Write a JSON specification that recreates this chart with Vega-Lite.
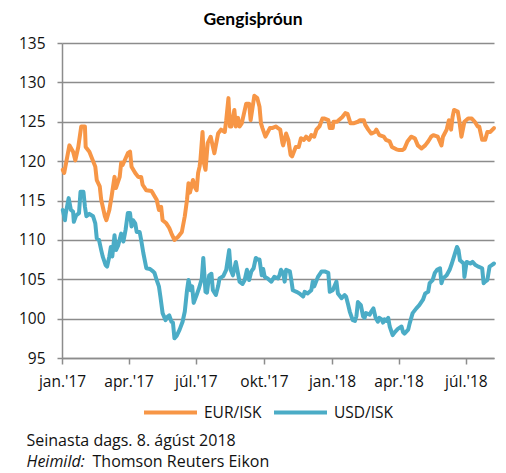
{
  "$schema": "https://vega.github.io/schema/vega-lite/v6.json",
  "width": 432,
  "height": 315,
  "autosize": {"type": "none"},
  "padding": {"left": 62, "top": 43, "right": 12, "bottom": 115},
  "config": {
    "font": "Open Sans",
    "view": {"stroke": null},
    "axis": {"labelFont": "Open Sans", "titleFont": "Open Sans", "labelColor": "#111", "titleColor": "#111"}
  },
  "title": {"text": "Gengisþróun", "fontSize": 17.5, "fontWeight": "bold", "anchor": "middle", "dx": -25, "offset": 8, "color": "#000", "font": "Lato"},
  "datasets": {
    "eur": [
      {"d":"2017-01-02","v":118.9},{"d":"2017-01-04","v":118.5},{"d":"2017-01-11","v":122.0},{"d":"2017-01-16","v":121.2},{"d":"2017-01-19","v":120.1},{"d":"2017-01-23","v":121.8},{"d":"2017-01-27","v":124.4},{"d":"2017-02-01","v":124.4},{"d":"2017-02-02","v":121.8},{"d":"2017-02-07","v":121.2},{"d":"2017-02-15","v":119.3},{"d":"2017-02-17","v":117.6},{"d":"2017-02-21","v":116.8},{"d":"2017-02-23","v":115.1},{"d":"2017-02-28","v":113.0},{"d":"2017-03-02","v":112.5},{"d":"2017-03-06","v":113.8},{"d":"2017-03-09","v":115.5},{"d":"2017-03-13","v":118.0},{"d":"2017-03-15","v":116.6},{"d":"2017-03-20","v":118.0},{"d":"2017-03-22","v":119.8},{"d":"2017-03-24","v":119.5},{"d":"2017-03-31","v":121.0},{"d":"2017-04-03","v":121.2},{"d":"2017-04-05","v":119.3},{"d":"2017-04-10","v":118.5},{"d":"2017-04-14","v":118.0},{"d":"2017-04-18","v":118.0},{"d":"2017-04-20","v":117.0},{"d":"2017-04-25","v":116.3},{"d":"2017-05-02","v":116.2},{"d":"2017-05-04","v":115.9},{"d":"2017-05-09","v":115.1},{"d":"2017-05-12","v":113.8},{"d":"2017-05-15","v":114.2},{"d":"2017-05-17","v":112.5},{"d":"2017-05-22","v":112.1},{"d":"2017-05-26","v":111.5},{"d":"2017-05-29","v":110.8},{"d":"2017-06-02","v":110.0},{"d":"2017-06-07","v":110.4},{"d":"2017-06-12","v":111.0},{"d":"2017-06-16","v":113.0},{"d":"2017-06-19","v":115.1},{"d":"2017-06-21","v":117.2},{"d":"2017-06-23","v":116.0},{"d":"2017-06-27","v":117.6},{"d":"2017-06-29","v":116.8},{"d":"2017-07-02","v":116.3},{"d":"2017-07-04","v":118.5},{"d":"2017-07-06","v":119.3},{"d":"2017-07-07","v":120.0},{"d":"2017-07-10","v":123.7},{"d":"2017-07-12","v":119.7},{"d":"2017-07-14","v":118.9},{"d":"2017-07-17","v":122.3},{"d":"2017-07-21","v":123.1},{"d":"2017-07-24","v":121.8},{"d":"2017-07-26","v":121.0},{"d":"2017-07-31","v":123.5},{"d":"2017-08-04","v":124.0},{"d":"2017-08-09","v":123.7},{"d":"2017-08-11","v":125.2},{"d":"2017-08-14","v":128.0},{"d":"2017-08-16","v":124.4},{"d":"2017-08-18","v":124.4},{"d":"2017-08-22","v":126.5},{"d":"2017-08-24","v":124.4},{"d":"2017-08-27","v":125.5},{"d":"2017-08-29","v":124.4},{"d":"2017-09-01","v":124.8},{"d":"2017-09-07","v":127.3},{"d":"2017-09-11","v":127.3},{"d":"2017-09-13","v":125.2},{"d":"2017-09-18","v":128.3},{"d":"2017-09-22","v":128.0},{"d":"2017-09-25","v":126.9},{"d":"2017-09-27","v":124.8},{"d":"2017-09-29","v":124.2},{"d":"2017-10-03","v":123.1},{"d":"2017-10-09","v":124.2},{"d":"2017-10-12","v":124.2},{"d":"2017-10-17","v":124.4},{"d":"2017-10-20","v":124.2},{"d":"2017-10-23","v":124.0},{"d":"2017-10-26","v":122.3},{"d":"2017-10-27","v":122.0},{"d":"2017-10-31","v":123.5},{"d":"2017-11-03","v":122.7},{"d":"2017-11-06","v":120.8},{"d":"2017-11-08","v":120.6},{"d":"2017-11-13","v":121.8},{"d":"2017-11-17","v":121.8},{"d":"2017-11-20","v":122.9},{"d":"2017-11-24","v":122.7},{"d":"2017-11-27","v":123.1},{"d":"2017-12-01","v":122.7},{"d":"2017-12-04","v":123.3},{"d":"2017-12-08","v":123.1},{"d":"2017-12-11","v":124.0},{"d":"2017-12-15","v":124.4},{"d":"2017-12-19","v":125.4},{"d":"2017-12-22","v":125.4},{"d":"2017-12-27","v":125.2},{"d":"2017-12-29","v":124.2},{"d":"2018-01-02","v":124.2},{"d":"2018-01-03","v":125.0},{"d":"2018-01-08","v":125.0},{"d":"2018-01-10","v":125.2},{"d":"2018-01-15","v":125.6},{"d":"2018-01-19","v":126.1},{"d":"2018-01-22","v":126.0},{"d":"2018-01-26","v":124.8},{"d":"2018-01-30","v":124.8},{"d":"2018-02-05","v":125.0},{"d":"2018-02-08","v":125.2},{"d":"2018-02-13","v":125.2},{"d":"2018-02-15","v":124.6},{"d":"2018-02-19","v":124.0},{"d":"2018-02-23","v":123.5},{"d":"2018-02-28","v":123.7},{"d":"2018-03-02","v":124.0},{"d":"2018-03-06","v":123.3},{"d":"2018-03-12","v":123.1},{"d":"2018-03-15","v":122.7},{"d":"2018-03-20","v":122.5},{"d":"2018-03-23","v":121.8},{"d":"2018-03-29","v":121.5},{"d":"2018-04-02","v":121.4},{"d":"2018-04-06","v":121.4},{"d":"2018-04-09","v":121.6},{"d":"2018-04-13","v":122.5},{"d":"2018-04-18","v":123.1},{"d":"2018-04-23","v":122.9},{"d":"2018-04-27","v":122.0},{"d":"2018-05-02","v":121.6},{"d":"2018-05-07","v":122.0},{"d":"2018-05-11","v":122.5},{"d":"2018-05-15","v":123.1},{"d":"2018-05-18","v":123.3},{"d":"2018-05-24","v":123.1},{"d":"2018-05-29","v":122.0},{"d":"2018-05-31","v":123.1},{"d":"2018-06-05","v":124.0},{"d":"2018-06-08","v":125.2},{"d":"2018-06-11","v":124.0},{"d":"2018-06-13","v":125.6},{"d":"2018-06-15","v":126.5},{"d":"2018-06-20","v":126.3},{"d":"2018-06-22","v":125.2},{"d":"2018-06-25","v":123.1},{"d":"2018-06-29","v":125.0},{"d":"2018-07-04","v":125.4},{"d":"2018-07-09","v":125.4},{"d":"2018-07-13","v":125.0},{"d":"2018-07-17","v":124.4},{"d":"2018-07-19","v":124.4},{"d":"2018-07-23","v":122.7},{"d":"2018-07-27","v":122.7},{"d":"2018-07-30","v":123.7},{"d":"2018-08-03","v":123.7},{"d":"2018-08-08","v":124.2}
    ],
    "usd": [
      {"d":"2017-01-02","v":113.8},{"d":"2017-01-05","v":112.5},{"d":"2017-01-06","v":113.3},{"d":"2017-01-10","v":115.3},{"d":"2017-01-13","v":113.8},{"d":"2017-01-16","v":113.6},{"d":"2017-01-17","v":112.3},{"d":"2017-01-20","v":113.1},{"d":"2017-01-24","v":113.4},{"d":"2017-01-26","v":116.1},{"d":"2017-01-30","v":116.1},{"d":"2017-02-01","v":114.2},{"d":"2017-02-03","v":113.0},{"d":"2017-02-07","v":113.3},{"d":"2017-02-12","v":113.0},{"d":"2017-02-15","v":112.1},{"d":"2017-02-17","v":110.2},{"d":"2017-02-20","v":110.0},{"d":"2017-02-23","v":108.7},{"d":"2017-02-25","v":107.9},{"d":"2017-03-01","v":106.8},{"d":"2017-03-03","v":106.6},{"d":"2017-03-06","v":107.9},{"d":"2017-03-08","v":109.1},{"d":"2017-03-10","v":107.9},{"d":"2017-03-13","v":110.6},{"d":"2017-03-15","v":108.7},{"d":"2017-03-18","v":109.3},{"d":"2017-03-22","v":110.8},{"d":"2017-03-25","v":109.8},{"d":"2017-03-28","v":111.3},{"d":"2017-03-31","v":113.4},{"d":"2017-04-03","v":113.4},{"d":"2017-04-05","v":111.7},{"d":"2017-04-07","v":112.5},{"d":"2017-04-10","v":112.1},{"d":"2017-04-12","v":111.0},{"d":"2017-04-16","v":111.0},{"d":"2017-04-18","v":110.0},{"d":"2017-04-21","v":108.3},{"d":"2017-04-25","v":106.4},{"d":"2017-04-30","v":106.3},{"d":"2017-05-04","v":106.0},{"d":"2017-05-06","v":105.8},{"d":"2017-05-09","v":104.9},{"d":"2017-05-12","v":104.1},{"d":"2017-05-14","v":102.8},{"d":"2017-05-17","v":100.7},{"d":"2017-05-21","v":99.8},{"d":"2017-05-23","v":100.2},{"d":"2017-05-26","v":100.4},{"d":"2017-05-29","v":99.6},{"d":"2017-05-31","v":99.5},{"d":"2017-06-02","v":97.5},{"d":"2017-06-05","v":97.8},{"d":"2017-06-09","v":98.6},{"d":"2017-06-13","v":99.6},{"d":"2017-06-16","v":100.9},{"d":"2017-06-19","v":103.6},{"d":"2017-06-21","v":104.9},{"d":"2017-06-24","v":103.6},{"d":"2017-06-26","v":104.1},{"d":"2017-06-28","v":102.0},{"d":"2017-07-02","v":103.0},{"d":"2017-07-05","v":103.8},{"d":"2017-07-09","v":105.1},{"d":"2017-07-11","v":107.7},{"d":"2017-07-14","v":103.4},{"d":"2017-07-16","v":103.3},{"d":"2017-07-19","v":105.5},{"d":"2017-07-22","v":105.7},{"d":"2017-07-24","v":103.6},{"d":"2017-07-28","v":103.0},{"d":"2017-07-31","v":104.1},{"d":"2017-08-02","v":105.1},{"d":"2017-08-07","v":105.4},{"d":"2017-08-11","v":106.2},{"d":"2017-08-15","v":108.7},{"d":"2017-08-17","v":106.2},{"d":"2017-08-20","v":105.5},{"d":"2017-08-24","v":107.2},{"d":"2017-08-26","v":106.2},{"d":"2017-08-29","v":104.7},{"d":"2017-09-02","v":104.4},{"d":"2017-09-05","v":104.9},{"d":"2017-09-08","v":106.2},{"d":"2017-09-11","v":104.9},{"d":"2017-09-14","v":106.0},{"d":"2017-09-17","v":106.4},{"d":"2017-09-20","v":107.7},{"d":"2017-09-23","v":107.5},{"d":"2017-09-25","v":107.5},{"d":"2017-09-28","v":105.5},{"d":"2017-09-30","v":106.3},{"d":"2017-10-02","v":105.3},{"d":"2017-10-06","v":105.1},{"d":"2017-10-11","v":104.7},{"d":"2017-10-15","v":105.3},{"d":"2017-10-20","v":105.1},{"d":"2017-10-22","v":105.5},{"d":"2017-10-24","v":106.2},{"d":"2017-10-27","v":105.8},{"d":"2017-10-29","v":104.7},{"d":"2017-10-31","v":106.2},{"d":"2017-11-05","v":106.0},{"d":"2017-11-07","v":104.9},{"d":"2017-11-09","v":103.6},{"d":"2017-11-14","v":103.4},{"d":"2017-11-18","v":103.2},{"d":"2017-11-23","v":102.8},{"d":"2017-11-25","v":103.4},{"d":"2017-11-29","v":103.2},{"d":"2017-12-04","v":103.6},{"d":"2017-12-06","v":104.7},{"d":"2017-12-08","v":104.1},{"d":"2017-12-13","v":105.3},{"d":"2017-12-18","v":106.0},{"d":"2017-12-22","v":106.0},{"d":"2017-12-27","v":105.8},{"d":"2017-12-29","v":103.4},{"d":"2018-01-02","v":103.6},{"d":"2018-01-07","v":104.7},{"d":"2018-01-09","v":103.2},{"d":"2018-01-14","v":102.6},{"d":"2018-01-18","v":103.0},{"d":"2018-01-20","v":102.8},{"d":"2018-01-23","v":101.7},{"d":"2018-01-25","v":100.9},{"d":"2018-01-29","v":99.8},{"d":"2018-02-01","v":99.7},{"d":"2018-02-03","v":100.3},{"d":"2018-02-05","v":102.1},{"d":"2018-02-09","v":101.7},{"d":"2018-02-12","v":100.3},{"d":"2018-02-14","v":100.1},{"d":"2018-02-16","v":100.7},{"d":"2018-02-21","v":100.5},{"d":"2018-02-23","v":100.9},{"d":"2018-02-26","v":101.3},{"d":"2018-03-01","v":100.1},{"d":"2018-03-04","v":99.6},{"d":"2018-03-06","v":100.1},{"d":"2018-03-09","v":99.9},{"d":"2018-03-11","v":99.5},{"d":"2018-03-13","v":99.9},{"d":"2018-03-15","v":99.7},{"d":"2018-03-18","v":100.1},{"d":"2018-03-20","v":99.0},{"d":"2018-03-24","v":97.9},{"d":"2018-03-27","v":98.3},{"d":"2018-03-31","v":98.7},{"d":"2018-04-05","v":99.0},{"d":"2018-04-07","v":98.3},{"d":"2018-04-09","v":98.1},{"d":"2018-04-14","v":98.6},{"d":"2018-04-16","v":99.4},{"d":"2018-04-20","v":100.7},{"d":"2018-04-25","v":101.3},{"d":"2018-04-29","v":101.7},{"d":"2018-05-04","v":102.4},{"d":"2018-05-07","v":103.2},{"d":"2018-05-11","v":103.4},{"d":"2018-05-13","v":104.5},{"d":"2018-05-17","v":104.9},{"d":"2018-05-20","v":105.8},{"d":"2018-05-23","v":106.2},{"d":"2018-05-27","v":106.4},{"d":"2018-05-29","v":104.5},{"d":"2018-05-31","v":105.1},{"d":"2018-06-05","v":105.5},{"d":"2018-06-09","v":106.2},{"d":"2018-06-12","v":107.0},{"d":"2018-06-15","v":107.9},{"d":"2018-06-19","v":109.1},{"d":"2018-06-21","v":108.7},{"d":"2018-06-23","v":107.4},{"d":"2018-06-28","v":107.0},{"d":"2018-06-29","v":105.3},{"d":"2018-07-02","v":107.2},{"d":"2018-07-07","v":107.0},{"d":"2018-07-10","v":107.2},{"d":"2018-07-14","v":106.8},{"d":"2018-07-18","v":106.6},{"d":"2018-07-23","v":106.4},{"d":"2018-07-25","v":104.5},{"d":"2018-07-27","v":104.7},{"d":"2018-07-30","v":104.9},{"d":"2018-08-02","v":106.6},{"d":"2018-08-05","v":106.8},{"d":"2018-08-08","v":107.0}
    ]
  },
  "layer": [
    {
      "data": {"name": "eur"},
      "mark": {"type": "line", "strokeWidth": 4, "strokeJoin": "round", "strokeCap": "round"},
      "encoding": {
        "x": {
          "field": "d", "type": "temporal",
          "scale": {"type": "utc", "domain": [{"year": 2017, "month": 1, "date": 1, "utc": true}, {"year": 2018, "month": 8, "date": 8, "utc": true}]},
          "axis": {
            "values": [{"year": 2017, "month": 1, "date": 1, "utc": true}, {"year": 2017, "month": 4, "date": 1, "utc": true}, {"year": 2017, "month": 7, "date": 1, "utc": true}, {"year": 2017, "month": 10, "date": 1, "utc": true}, {"year": 2018, "month": 1, "date": 1, "utc": true}, {"year": 2018, "month": 4, "date": 1, "utc": true}, {"year": 2018, "month": 7, "date": 1, "utc": true}],
            "labelExpr": "['jan.','feb.','mar.','apr.','maí','jún.','júl.','ágú.','sep.','okt.','nóv.','des.'][utcmonth(datum.value)] + \"'\" + utcFormat(datum.value, '%y')",
            "labelFontSize": 15.5, "labelPadding": 10, "labelFlush": false, "labelOverlap": false,
            "grid": false, "domainColor": "#8c8c8c", "domainWidth": 1.5, "tickColor": "#8c8c8c", "tickWidth": 1.5, "tickSize": 6,
            "title": "Seinasta dags. 8. ágúst 2018", "titleFontSize": 16, "titleFontWeight": "normal",
            "titleX": -36, "titleY": 87, "titleAlign": "left", "titleAnchor": null, "titleBaseline": "alphabetic", "titleAngle": 0
          }
        },
        "y": {
          "field": "v", "type": "quantitative",
          "scale": {"domain": [95, 135], "nice": false, "zero": false},
          "axis": {
            "values": [95, 100, 105, 110, 115, 120, 125, 130, 135],
            "labelFontSize": 15.5, "labelPadding": 12,
            "grid": true, "gridColor": "#8c8c8c", "gridWidth": 1.5,
            "domainColor": "#8c8c8c", "domainWidth": 1.5, "tickColor": "#8c8c8c", "tickWidth": 1.5, "tickSize": 5,
            "title": "Heimild:", "titleFontSize": 16, "titleFontWeight": "normal", "titleFontStyle": "italic",
            "titleAngle": 0, "titleX": -36, "titleY": 423, "titleAlign": "left", "titleBaseline": "alphabetic"
          }
        },
        "color": {
          "datum": "EUR/ISK", "type": "nominal",
          "scale": {"domain": ["EUR/ISK", "USD/ISK"], "range": ["#F79646", "#4BACC6"]},
          "legend": {
            "orient": "none", "legendX": 80, "legendY": 341, "direction": "horizontal", "title": null,
            "symbolType": "stroke", "symbolStrokeWidth": 4, "symbolSize": 2809,
            "labelFontSize": 15.5, "labelOffset": 5, "columnPadding": 4, "padding": 0, "labelColor": "#111", "labelFont": "Open Sans"
          }
        }
      }
    },
    {
      "data": {"name": "usd"},
      "mark": {"type": "line", "strokeWidth": 4, "strokeJoin": "round", "strokeCap": "round"},
      "encoding": {
        "x": {
          "field": "d", "type": "temporal",
          "scale": {"type": "utc", "domain": [{"year": 2017, "month": 1, "date": 1, "utc": true}, {"year": 2018, "month": 8, "date": 8, "utc": true}]},
          "axis": {
            "values": [{"year": 2017, "month": 1, "date": 1, "utc": true}, {"year": 2017, "month": 4, "date": 1, "utc": true}, {"year": 2017, "month": 7, "date": 1, "utc": true}, {"year": 2017, "month": 10, "date": 1, "utc": true}, {"year": 2018, "month": 1, "date": 1, "utc": true}, {"year": 2018, "month": 4, "date": 1, "utc": true}, {"year": 2018, "month": 7, "date": 1, "utc": true}],
            "labelExpr": "['jan.','feb.','mar.','apr.','maí','jún.','júl.','ágú.','sep.','okt.','nóv.','des.'][utcmonth(datum.value)] + \"'\" + utcFormat(datum.value, '%y')",
            "labelFontSize": 15.5, "labelPadding": 10, "labelFlush": false, "labelOverlap": false,
            "grid": false, "domainColor": "#8c8c8c", "domainWidth": 1.5, "tickColor": "#8c8c8c", "tickWidth": 1.5, "tickSize": 6,
            "title": "Seinasta dags. 8. ágúst 2018", "titleFontSize": 16, "titleFontWeight": "normal",
            "titleX": -36, "titleY": 87, "titleAlign": "left", "titleAnchor": null, "titleBaseline": "alphabetic", "titleAngle": 0
          }
        },
        "y": {
          "field": "v", "type": "quantitative",
          "scale": {"domain": [95, 135], "nice": false, "zero": false},
          "axis": {
            "orient": "right", "labels": false, "ticks": false, "domain": false, "grid": false,
            "title": "Thomson Reuters Eikon", "titleFontSize": 16, "titleFontWeight": "normal",
            "titleAngle": 0, "titleX": -402, "titleY": 423, "titleAlign": "left", "titleBaseline": "alphabetic"
          }
        },
        "color": {"datum": "USD/ISK", "type": "nominal"}
      }
    }
  ],
  "resolve": {"axis": {"y": "independent"}}
}
